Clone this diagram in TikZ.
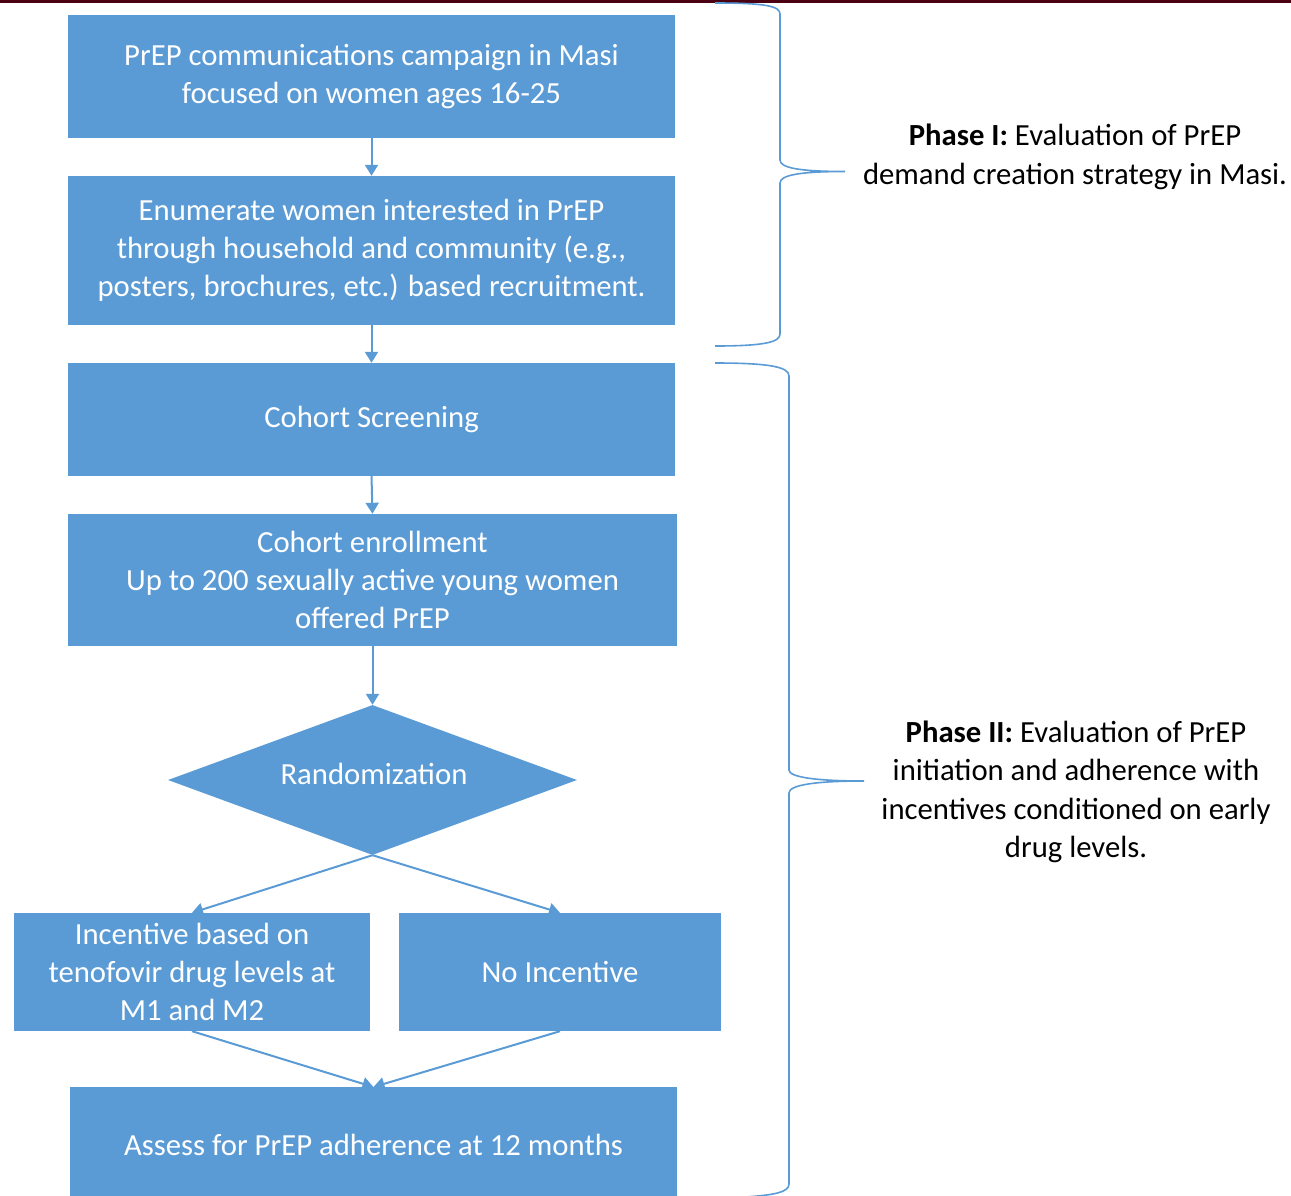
\documentclass[tikz,border=0pt]{standalone}
\usepackage{fontspec}
\setmainfont{Carlito}
\usetikzlibrary{shapes.geometric,arrows.meta}
\definecolor{boxblue}{HTML}{5B9BD5}
\definecolor{arrowblue}{HTML}{5B9BD5}
\definecolor{topred}{HTML}{4A0010}
\tikzset{
  flowbox/.style={fill=boxblue, draw=none, text=white, align=center, inner sep=0pt,
    font=\fontsize{30.7}{38}\selectfont},
  decision/.style={diamond, fill=boxblue, draw=none, text=white, inner sep=0pt,
    font=\fontsize{30.7}{38}\selectfont},
  flowarrow/.style={draw=arrowblue, line width=2pt, -{Triangle[width=13pt,length=11pt]}},
  bracepath/.style={draw=arrowblue, line width=1.6pt},
  phasetext/.style={text=black, align=center, font=\fontsize{30.7}{38.5}\selectfont}
}
\begin{document}
\begin{tikzpicture}[x=1pt,y=-1pt]
\useasboundingbox (0,0) rectangle (1291,1195);
\clip (0,0) rectangle (1291,1195);
\fill[topred] (0,0) rectangle (1291,3);

\node[flowbox, minimum width=607pt, minimum height=123pt] (b1) at (371.5,76.5)
  {PrEP communications campaign in Masi\\focused on women ages 16-25};
\node[flowbox, minimum width=607pt, minimum height=149pt] (b2) at (371.5,250.5)
  {Enumerate women interested in PrEP\\through household and community (e.g.,\\posters, brochures, etc.) based recruitment.};
\node[flowbox, minimum width=607pt, minimum height=113pt] (b3) at (371.5,419.5)
  {Cohort Screening};
\node[flowbox, minimum width=609pt, minimum height=132pt] (b4) at (372.5,580)
  {Cohort enrollment\\Up to 200 sexually active young women\\offered PrEP};
\node[decision, minimum width=409pt, minimum height=150pt, aspect=2.73] (d) at (372.5,780) {};
\node[text=white, font=\fontsize{30.7}{38}\selectfont] (dt) at (374,774) {Randomization};
\node[flowbox, minimum width=356pt, minimum height=118pt] (l) at (192,972)
  {Incentive based on\\tenofovir drug levels at\\M1 and M2};
\node[flowbox, minimum width=322pt, minimum height=118pt] (r) at (560,972)
  {No Incentive};
\node[flowbox, minimum width=607pt, minimum height=116pt] (f) at (373.5,1145)
  {Assess for PrEP adherence at 12 months};

\draw[flowarrow] (b1.south) -- (b2.north);
\draw[flowarrow] (b2.south) -- (b3.north);
\draw[flowarrow] (b3.south) -- (b4.north);
\draw[flowarrow] (b4.south) -- (d.north);
\draw[flowarrow] (d.south) -- (l.north);
\draw[flowarrow] (d.south) -- (r.north);
\coordinate (fin) at (373.5,1087);
\draw[flowarrow] (l.south) -- (fin);
\draw[flowarrow] (r.south) -- (fin);

% braces
\draw[bracepath] (715,3) .. controls (765,3) and (780,6) .. (780,14) -- (780,160)
  .. controls (780,168) and (800,171.5) .. (845,171.5)
  .. controls (800,171.5) and (780,175) .. (780,183) -- (780,334)
  .. controls (780,342) and (765,346) .. (715,346);
\draw[bracepath] (715,363) .. controls (770,363) and (789,367) .. (789,376) -- (789,770)
  .. controls (789,777) and (815,781) .. (864,781)
  .. controls (815,781) and (789,785) .. (789,793) -- (789,1184)
  .. controls (789,1192) and (775,1195) .. (745,1197);

\node[phasetext] (p1) at (1075,157) {\textbf{Phase I:} Evaluation of PrEP\\demand creation strategy in Masi.};
\node[phasetext] (p2) at (1076,792) {\textbf{Phase II:} Evaluation of PrEP\\initiation and adherence with\\incentives conditioned on early\\drug levels.};
\end{tikzpicture}
\end{document}
